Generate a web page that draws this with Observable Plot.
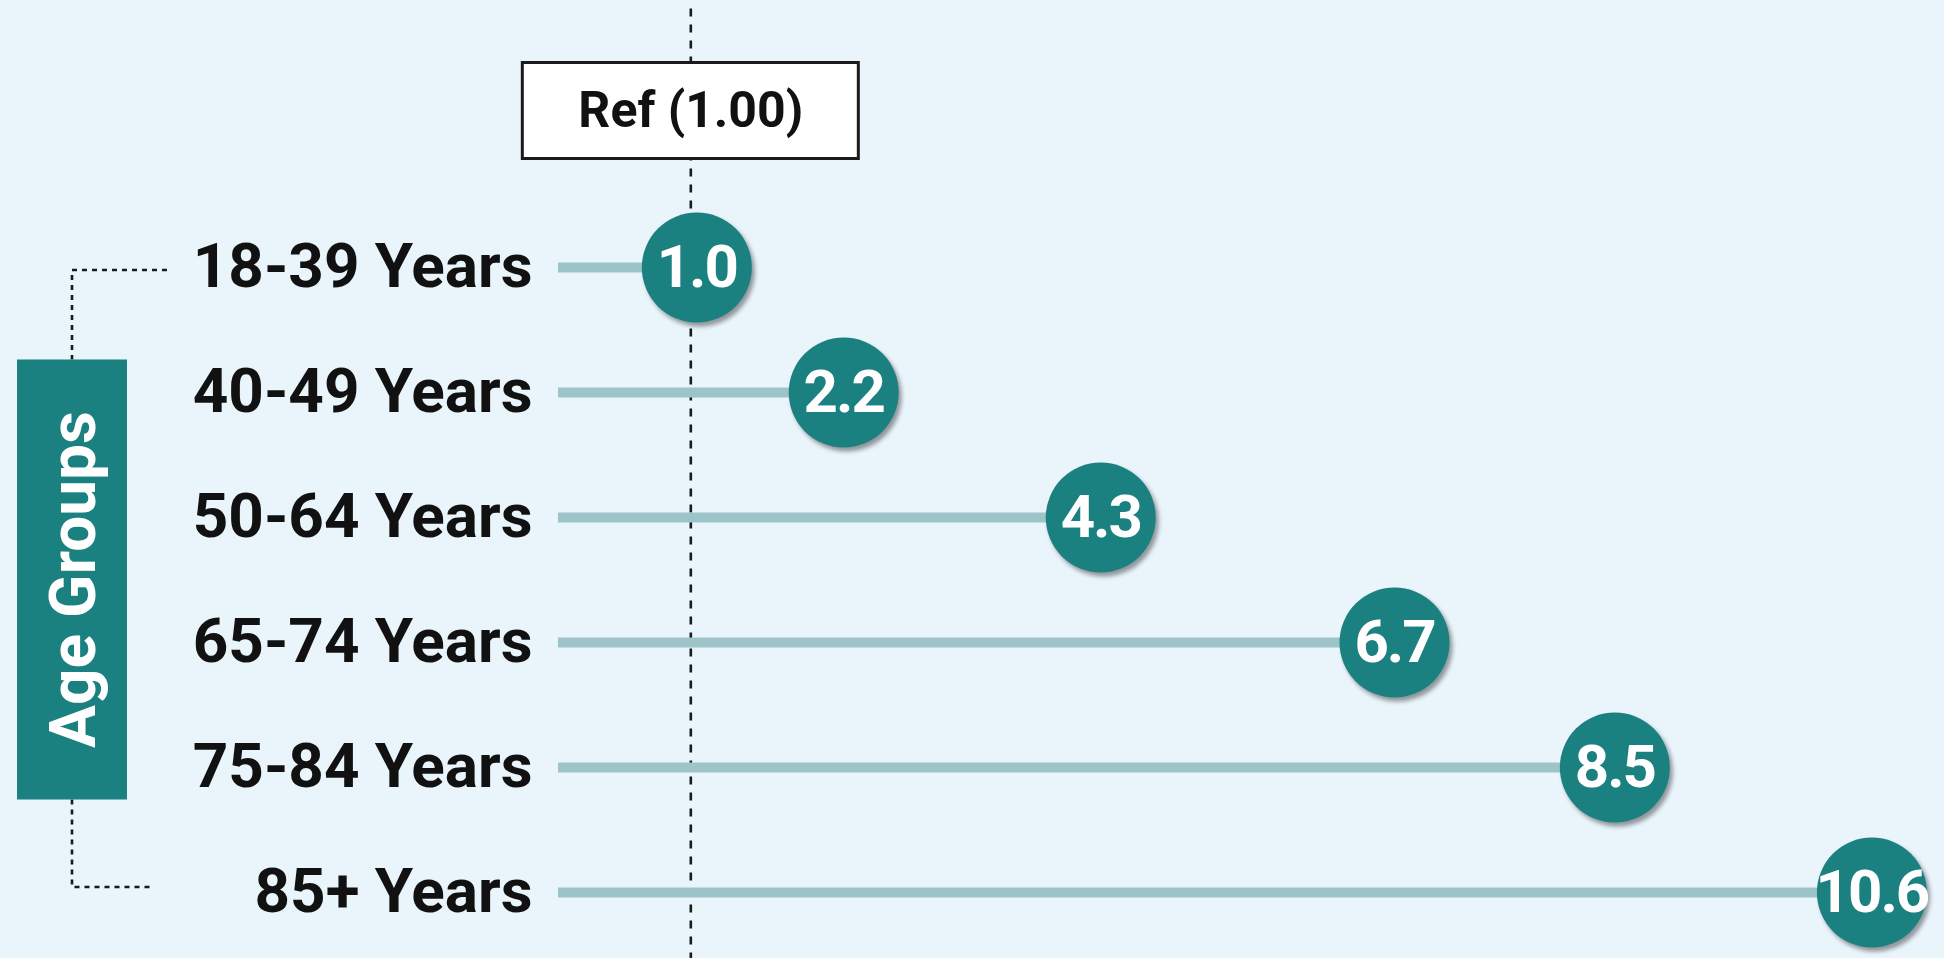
<!DOCTYPE html>
<html>
<head>
<meta charset="utf-8">
<script src="https://cdn.jsdelivr.net/npm/d3@7"></script>
<script src="https://cdn.jsdelivr.net/npm/@observablehq/plot@0.6"></script>
<style>
  html, body { margin: 0; padding: 0; background: #e9f4fb; }
  #chart svg { display: block; }
</style>
</head>
<body>
<div id="chart"></div>
<script>
// ---- data ----
const categories = ["18-39 Years", "40-49 Years", "50-64 Years", "65-74 Years", "75-84 Years", "85+ Years"];
const values = [1.0, 2.2, 4.3, 6.7, 8.5, 10.6];
const valueLabels = ["1.0", "2.2", "4.3", "6.7", "8.5", "10.6"];
const refValue = 1.0;
const refLabel = "Ref (1.00)";
const axisTitle = "Age Groups";
const xDomain = [-0.13, 11.1];

// ---- styles ----
const teal = "#1b8080";
const stem = "#9dc5c9";
const bg = "#e9f4fb";
const font = "Roboto, 'Liberation Sans', sans-serif";
const refShift = -6;   // reference line sits slightly left of the 1.0 marker
const refLift = -94;   // label box above the first row

const rows = categories.map((c, i) => ({cat: c, value: values[i], label: valueLabels[i]}));
const refRows = [{v: refValue, label: refLabel}];

const plot = Plot.plot({
  width: 1944,
  height: 958,
  marginLeft: 558,
  marginRight: 11.4,
  marginTop: 204.5,
  marginBottom: 3.5,
  style: {background: bg, fontFamily: font, overflow: "visible"},
  x: {domain: xDomain, axis: null},
  y: {type: "point", domain: categories, padding: 0.5, label: null},
  marks: [
    Plot.ruleX(refRows, {x: "v", dx: refShift, stroke: "#1a1a1a", strokeWidth: 2.6, strokeDasharray: "8,8", insetTop: -196, insetBottom: -5}),
    Plot.ruleX([xDomain[0]], {y1: categories[0], y2: categories[categories.length - 1], stroke: "#8c8c8c", strokeWidth: 1.3, strokeDasharray: "7,8", insetTop: 10, insetBottom: -70}),
    Plot.ruleY(rows, {y: "cat", x1: xDomain[0], x2: "value", stroke: stem, strokeWidth: 10}),
    Plot.dot(rows, {x: "value", y: "cat", r: 55, fill: teal, stroke: null}),
    Plot.text(rows, {x: "value", y: "cat", text: "label", fill: "#ffffff", fontSize: 60, fontWeight: 700}),
    Plot.text(refRows, {x: "v", text: "label", frameAnchor: "top", lineAnchor: "middle", dx: refShift, dy: refLift, fill: "#111111", fontSize: 50, fontWeight: 700}),
    Plot.axisY({tickSize: 0, tickPadding: 26, fontSize: 62, fontWeight: 700, fill: "#111111", label: null})
  ]
});

document.getElementById("chart").appendChild(plot);

const svg = d3.select(plot);
// drop shadows on circles
svg.selectAll("g[aria-label='dot']").style("filter", "drop-shadow(3px 4px 2px rgba(0,0,0,0.38))");

// value labels: tighten so they fit inside the circles
const textGroups = plot.querySelectorAll("g[aria-label='text']");
d3.select(textGroups[0]).attr("letter-spacing", "-2px");

// reference label box
const y = plot.scale("y");
const refG = textGroups[textGroups.length - 1];
const cx = plot.scale("x").apply(refValue) + refShift;
const cy = y.range[0] + refLift;
const boxW = 336, boxH = 96;
const rect = document.createElementNS("http://www.w3.org/2000/svg", "rect");
rect.setAttribute("x", cx - boxW / 2);
rect.setAttribute("y", cy - boxH / 2);
rect.setAttribute("width", boxW);
rect.setAttribute("height", boxH);
rect.setAttribute("fill", "#ffffff");
rect.setAttribute("stroke", "#1a1a1a");
rect.setAttribute("stroke-width", 3);
refG.parentNode.insertBefore(rect, refG);

// "Age Groups" bracket & title box
const yTop = y.apply(categories[0]);
const yBot = y.apply(categories[categories.length - 1]);
const yMid = (yTop + yBot) / 2;
const bx = 72, bW = 110, bH = 440;
const g = svg.append("g");
g.append("path")
  .attr("d", `M167,${yTop + 3}H${bx}V${yMid - bH / 2}M${bx},${yMid + bH / 2}V${yBot - 5}H152`)
  .attr("fill", "none")
  .attr("stroke", "#1a1a1a")
  .attr("stroke-width", 2.6)
  .attr("stroke-dasharray", "5,5");
g.append("rect")
  .attr("x", bx - bW / 2)
  .attr("y", yMid - bH / 2)
  .attr("width", bW)
  .attr("height", bH)
  .attr("fill", teal);
g.append("text")
  .attr("transform", `translate(${bx},${yMid}) rotate(-90)`)
  .attr("text-anchor", "middle")
  .attr("dy", "0.36em")
  .attr("fill", "#ffffff")
  .attr("font-family", font)
  .attr("font-size", 64)
  .attr("font-weight", 700)
  .text(axisTitle);
</script>
</body>
</html>
